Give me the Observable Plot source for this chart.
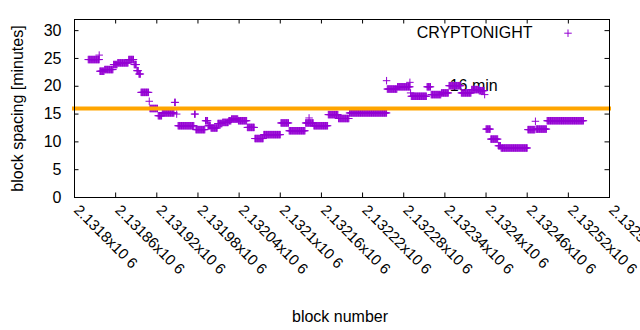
<!DOCTYPE html>
<html><head><meta charset="utf-8">
<script src="https://cdn.jsdelivr.net/npm/d3@7"></script>
<script src="https://cdn.jsdelivr.net/npm/@observablehq/plot@0.6"></script>
<style>html,body{margin:0;padding:0;background:#fff;}</style>
</head><body><div id="chart"></div>
<script>
// Runs of consecutive blocks sharing the same plotted spacing (minutes)
const runStart = [2131820,2131836,2131837,2131844,2131857,2131863,2131879,2131887,2131891,2131894,
  2131897,2131909,2131910,2131922,2131928,2131946,2131949,2131951,2131975,2131977,
  2131991,2131995,2131999,2132009,2132016,2132025,2132029,2132039,2132052,2132063,
  2132076,2132101,2132113,2132137,2132142,2132149,2132170,2132185,2132201,2132255,
  2132256,2132271,2132289,2132290,2132291,2132314,2132320,2132335,2132346,2132364,
  2132379,2132390,2132398,2132400,2132407,2132418,2132422,2132461,2132472,2132473,2132489];
const runEnd = [2131836,2131836,2131843,2131856,2131862,2131878,2131886,2131890,2131893,2131896,
  2131908,2131909,2131921,2131927,2131945,2131947,2131949,2131974,2131976,2131990,
  2131994,2131998,2132008,2132015,2132024,2132028,2132038,2132051,2132062,2132075,
  2132100,2132112,2132136,2132148,2132142,2132169,2132184,2132200,2132255,2132255,
  2132270,2132289,2132289,2132290,2132313,2132319,2132334,2132345,2132363,2132378,
  2132389,2132397,2132398,2132406,2132417,2132421,2132460,2132471,2132472,2132488,2132542];
const runValue = [24.8,25.6,22.7,23.0,23.9,24.2,24.8,23.9,22.8,22.2,
  18.9,17.3,16.0,14.7,15.2,17.1,15.0,12.9,15.0,12.2,
  13.8,12.9,12.5,13.3,13.5,13.8,14.1,13.8,12.6,10.6,
  11.3,13.4,12.0,13.4,14.3,12.9,14.9,14.2,15.2,21.0,
  19.5,19.9,20.7,18.8,18.2,19.9,18.5,18.8,20.1,18.8,
  19.4,19.2,18.5,12.3,10.5,9.3,8.9,12.2,13.7,12.3,13.8];

const xTicks = [2131800,2131860,2131920,2131980,2132040,2132100,2132160,2132220,2132280,2132340,2132400,2132460,2132520,2132580];
const xTickLabels = ["2.1318x10 6","2.13186x10 6","2.13192x10 6","2.13198x10 6","2.13204x10 6","2.1321x10 6","2.13216x10 6","2.13222x10 6","2.13228x10 6","2.13234x10 6","2.1324x10 6","2.13246x10 6","2.13252x10 6","2.13258x10 6"];
const yTicks = [0,5,10,15,20,25,30];
const targetValue = 16;
const targetLabel = "16 min";
const targetLabelAt = {block: 2132347, value: 20};
const seriesName = "CRYPTONIGHT";
const xTitle = "block number";
const yTitle = "block spacing [minutes]";

const points = [];
runStart.forEach((s, i) => { for (let b = s; b <= runEnd[i]; b++) points.push({block: b, spacing: runValue[i]}); });

const plus = {draw(ctx, size) { const r = Math.sqrt(size / Math.PI); ctx.moveTo(-r, 0); ctx.lineTo(r, 0); ctx.moveTo(0, -r); ctx.lineTo(0, r); }};

const W = 640, H = 330, mL = 74, mR = 31, mT = 19, mB = 133;
const fW = W - mL - mR, fH = H - mT - mB, tk = 4.5;
const purple = "#9400d3", orange = "#ffa500";

const chart = Plot.plot({
  width: W, height: H, marginLeft: mL, marginRight: mR, marginTop: mT, marginBottom: mB,
  style: {fontFamily: "'Liberation Sans', Arial, sans-serif", fontSize: "16px", background: "white", color: "black", overflow: "hidden"},
  x: {domain: [xTicks[0], xTicks[xTicks.length - 1]]},
  y: {domain: [0, 32]},
  marks: [
    Plot.text([targetLabelAt], {x: "block", y: "value", text: () => targetLabel, textAnchor: "start", lineAnchor: "middle", fill: "black", fontSize: 16}),
    Plot.dot(points, {x: "block", y: "spacing", symbol: plus, r: 3.75, stroke: purple, strokeWidth: 1, fill: "none"}),
    Plot.ruleY([targetValue], {stroke: orange, strokeWidth: 4, strokeLinecap: "square"}),
    Plot.frame({stroke: "black", strokeWidth: 1}),
    Plot.tickX(xTicks, {x: d => d, insetTop: fH - tk, stroke: "black"}),
    Plot.tickX(xTicks, {x: d => d, insetBottom: fH - tk, stroke: "black"}),
    Plot.tickY(yTicks, {y: d => d, insetRight: fW - tk, stroke: "black"}),
    Plot.tickY(yTicks, {y: d => d, insetLeft: fW - tk, stroke: "black"}),
    Plot.axisX(xTicks, {tickSize: 0, tickRotate: 45, tickPadding: 10, tickFormat: d => xTickLabels[xTicks.indexOf(d)], dx: 2, label: null, fontSize: 15}),
    Plot.axisY(yTicks, {tickSize: 0, tickPadding: 13, label: null, fontSize: 16}),
    Plot.text([xTitle], {frameAnchor: "bottom", dx: -2, dy: 119, lineAnchor: "middle", fontSize: 16}),
    Plot.text([yTitle], {frameAnchor: "left", dx: -57, rotate: -90, textAnchor: "middle", lineAnchor: "middle", fontSize: 16}),
    Plot.text([seriesName], {frameAnchor: "top-right", dx: -77, dy: 13, textAnchor: "end", lineAnchor: "middle", fontSize: 16}),
    Plot.dot([seriesName], {frameAnchor: "top-right", dx: -41.5, dy: 13.7, symbol: plus, r: 3.75, stroke: purple, strokeWidth: 1, fill: "none"})
  ]
});
document.getElementById("chart").appendChild(chart);
</script>
</body></html>
